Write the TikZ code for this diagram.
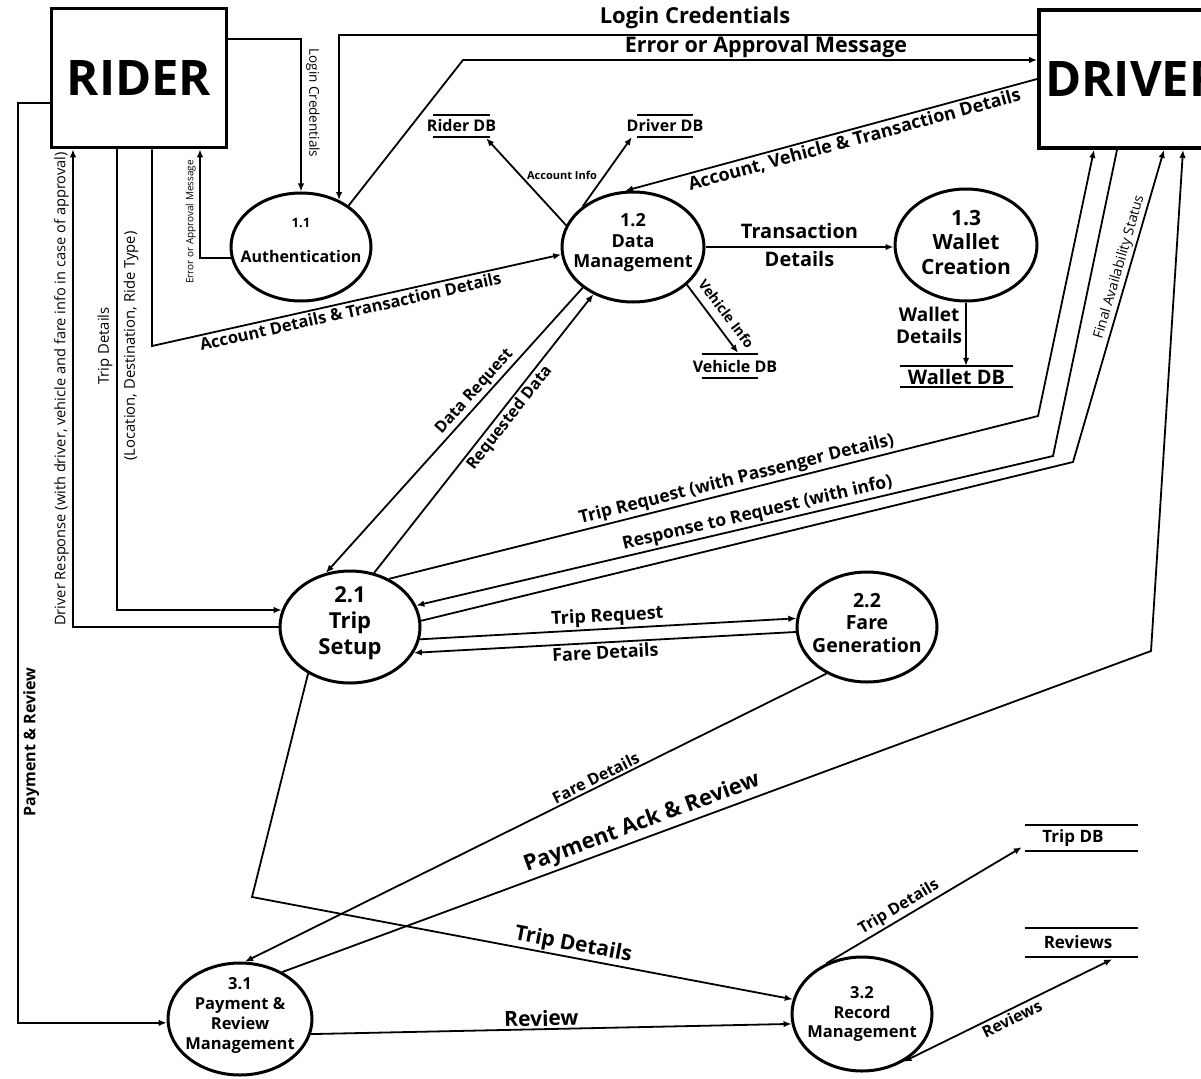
\documentclass[tikz,border=0pt]{standalone}
\usepackage{fontspec}
\setmainfont{Open Sans}
\usetikzlibrary{arrows.meta,shapes.geometric,calc}
\begin{document}
\begin{tikzpicture}[x=1pt,y=-1pt,
  lb/.style={font=\fontsize{#1}{#1}\selectfont\bfseries, inner sep=2pt},
  rg/.style={font=\fontsize{#1}{#1}\selectfont, inner sep=2pt},
  flow/.style={line width=1.8pt, -{Latex[length=8pt,width=6.5pt]}},
  dflow/.style={line width=1.8pt, {Latex[length=8pt,width=6.5pt]}-{Latex[length=8pt,width=6.5pt]}},
  proc/.style={ellipse, draw, line width=3pt, inner sep=0pt},
  ent/.style={draw, line width=3.8pt, inner sep=0pt, font=\fontsize{49}{49}\selectfont\bfseries},
  store/.style={inner sep=0pt, font=\fontsize{#1}{#1}\selectfont\bfseries},
  sline/.style={line width=2pt},
]
\useasboundingbox (0,0) rectangle (1201,1078);
\clip (0,0) rectangle (1201,1078);
\fill[white] (0,0) rectangle (1201,1078);

% external entities
\node[ent, minimum width=175, minimum height=139] (rider) at (139,78) {RIDER};
\node[ent, minimum width=189, minimum height=138] (driver) at (1133.5,79) {DRIVER};

% processes
\node[proc, minimum width=140, minimum height=108,
  label={[font=\fontsize{16}{35}\selectfont\bfseries, align=center, yshift=7]center:{{\fontsize{13}{35}\selectfont 1.1}\\Authentication}}] (a11) at (301,247) {};
\node[proc, minimum width=142, minimum height=110,
  label={[font=\fontsize{18}{20.5}\selectfont\bfseries, align=center, yshift=4]center:{1.2\\Data\\Management}}] (a12) at (633,247) {};
\node[proc, minimum width=142, minimum height=112,
  label={[font=\fontsize{21}{24.5}\selectfont\bfseries, align=center, yshift=3]center:{1.3\\Wallet\\Creation}}] (a13) at (966,245) {};
\node[proc, minimum width=140, minimum height=112,
  label={[font=\fontsize{22}{26}\selectfont\bfseries, align=center, yshift=4]center:{2.1\\Trip\\Setup}}] (a21) at (350,627) {};
\node[proc, minimum width=140, minimum height=110,
  label={[font=\fontsize{19.5}{22.5}\selectfont\bfseries, align=center, yshift=4]center:{2.2\\Fare\\Generation}}] (a22) at (867,627) {};
\node[proc, minimum width=144, minimum height=112,
  label={[font=\fontsize{16.5}{20}\selectfont\bfseries, align=center, yshift=4]center:{3.1\\Payment \&\\Review\\Management}}] (a31) at (240,1019) {};
\node[proc, minimum width=140, minimum height=114,
  label={[font=\fontsize{16.5}{19.5}\selectfont\bfseries, align=center]center:{3.2\\Record\\Management}}] (a32) at (862,1014) {};

% data stores
\node[store=16, minimum width=57, minimum height=22] (rdb) at (461.5,126) {\makebox[0pt]{Rider DB}};
\node[store=16, minimum width=56, minimum height=22] (ddb) at (665,126) {\makebox[0pt]{Driver DB}};
\node[store=16, minimum width=56, minimum height=24] (vdb) at (730,366) {\makebox[0pt]{\kern10pt Vehicle DB}};
\node[store=20, minimum width=113, minimum height=21] (wdb) at (956.5,376.5) {\makebox[0pt]{Wallet DB}};
\node[store=17, minimum width=113, minimum height=26] (tdb) at (1081.5,838) {\makebox[0pt]{Trip DB\kern17pt}};
\node[store=17, minimum width=113, minimum height=29] (rev) at (1081.5,942.5) {\makebox[0pt]{Reviews\kern7pt}};
\foreach \s in {rdb,ddb,vdb,wdb,tdb,rev}
  \draw[sline] (\s.north west) -- (\s.north east) (\s.south west) -- (\s.south east);

% helper coordinates
\coordinate (h39) at (0,39);
\coordinate (h35) at (0,35);
\coordinate (v200) at (200,0);
\coordinate (v152) at (152,0);
\coordinate (v117) at (117,0);
\coordinate (v73) at (73,0);
\coordinate (v1094) at (1094,0);
\coordinate (v1117) at (1117,0);
\coordinate (v1164) at (1164,0);
\coordinate (v1183) at (1183,0);
\coordinate (c1) at (463,60);
\coordinate (c2) at (152,346);
\coordinate (c3) at (1038,416);
\coordinate (c4) at (1053,456);
\coordinate (c5) at (1073,462);
\coordinate (c6) at (1151,651);
\coordinate (c7) at (252,897);
\coordinate (c8) at (18,103);

% flows around authentication
\draw[flow] (rider.east |- h39) -| (a11.north);
\draw[flow] (driver.west |- h35) -| (a11.51);
\draw[flow] (a11.41) -- (c1) -- (driver.west |- c1);
\draw[flow] (a11.189) -| (rider.south -| v200);
\node[lb=22] at (695,18) {Login Credentials};
\node[lb=21.5] at (766,47) {Error or Approval Message};
\node[rg=13.5, rotate=-90, anchor=south] at (304,103) {Login Credentials};
\node[rg=10, rotate=90, anchor=south] at (198,222) {Error or Approval Message};

% data management
\draw[flow] (rider.south -| v152) -- (c2) -- node[lb=16.5, sloped, below, pos=0.48]{Account Details \& Transaction Details} (a12.186);
\draw[flow] (a12.162) -- ($(rdb.south east)+(-4,1)$);
\draw[flow] (a12.141) -- ($(ddb.south west)+(-5,0)$);
\node[lb=11] at (562,175) {Account Info};
\draw[flow] (driver.west) -- node[lb=18, sloped, below, pos=0.45]{Account, Vehicle \& Transaction Details} (a12.98);
\draw[flow] (a12.east) -- (a12.east -| a13.west) node[lb=20, midway, above=5pt]{Transaction} node[lb=20, midway, below=1pt]{Details};
\draw[flow] (a13.south) -- (a13.south |- wdb.north) node[pos=0.36, left=1pt, align=center, inner sep=2pt, font=\fontsize{19}{22}\selectfont\bfseries]{Wallet\\Details};
\draw[flow] (a12.-35) -- node[lb=14, pos=0.55, sloped, above=6pt]{Vehicle Info} ($(vdb.north)+(8,-1)$);
\draw[flow] (a12.219) -- node[lb=16, sloped, above, pos=0.39]{Data Request} (a21.114);
\draw[flow] (a21.66) -- node[lb=16, sloped, below, pos=0.58]{Requested Data} (a12.230);

% rider <-> trip setup
\draw[flow] (rider.south -| v117) |- (a21.166);
\node[font=\fontsize{14.8}{26}\selectfont, rotate=90, align=center] at (118,346) {Trip Details\\(Location, Destination, Ride Type)};
\draw[flow] (a21.west) -| (rider.south -| v73);
\node[rg=14.6, rotate=90, anchor=south] at (71,389) {Driver Response (with driver, vehicle and fare info in case of approval)};
\draw[flow] (rider.west |- c8) -- (c8) |- (a31.183);
\node[lb=16, rotate=90, anchor=north] at (21,742) {Payment \& Review};

% trip setup <-> driver
\draw[flow] (a21.51) -- node[lb=17.5, sloped, above, pos=0.54]{Trip Request (with Passenger Details)} (c3) -- (driver.south -| v1094);
\draw[flow] (driver.south -| v1117) -- (c4) -- node[lb=17.5, sloped, above, pos=0.46]{Response to Request (with info)} (a21.18);
\draw[flow] (a21.5) -- (c5) -- node[rg=14, sloped, above, pos=0.615]{Final Availability Status} (driver.south -| v1164);

% fare generation
\draw[flow] (a21.-10) -- node[lb=18, sloped, above]{Trip Request} (a22.173);
\draw[flow] (a22.184) -- node[lb=18, sloped, below]{Fare Details} (a21.-22);

% payment and records
\draw[flow] (a31.48) -- node[lb=22, sloped, above=1pt, pos=0.42]{Payment Ack \& Review} (c6) -- (driver.south -| v1183);
\draw[flow] (a21.228) -- (c7) -- node[lb=21, sloped, above=-1pt, pos=0.59]{Trip Details} (a32.168);
\draw[flow] (a22.229) -- node[lb=16, sloped, above, pos=0.39]{Fare Details} (a31.85);
\draw[flow] (a31.-12) -- node[lb=21, sloped, above, pos=0.48]{Review} (a32.188);
\draw[flow] (a32.125) -- node[lb=16, sloped, above, pos=0.4]{Trip Details} ($(tdb.south west)+(-3,-4)$);
\draw[dflow] (a32.-49) -- node[lb=16, sloped, below, pos=0.5]{Reviews} ($(rev.south east)+(-26,2)$);
\end{tikzpicture}
\end{document}
